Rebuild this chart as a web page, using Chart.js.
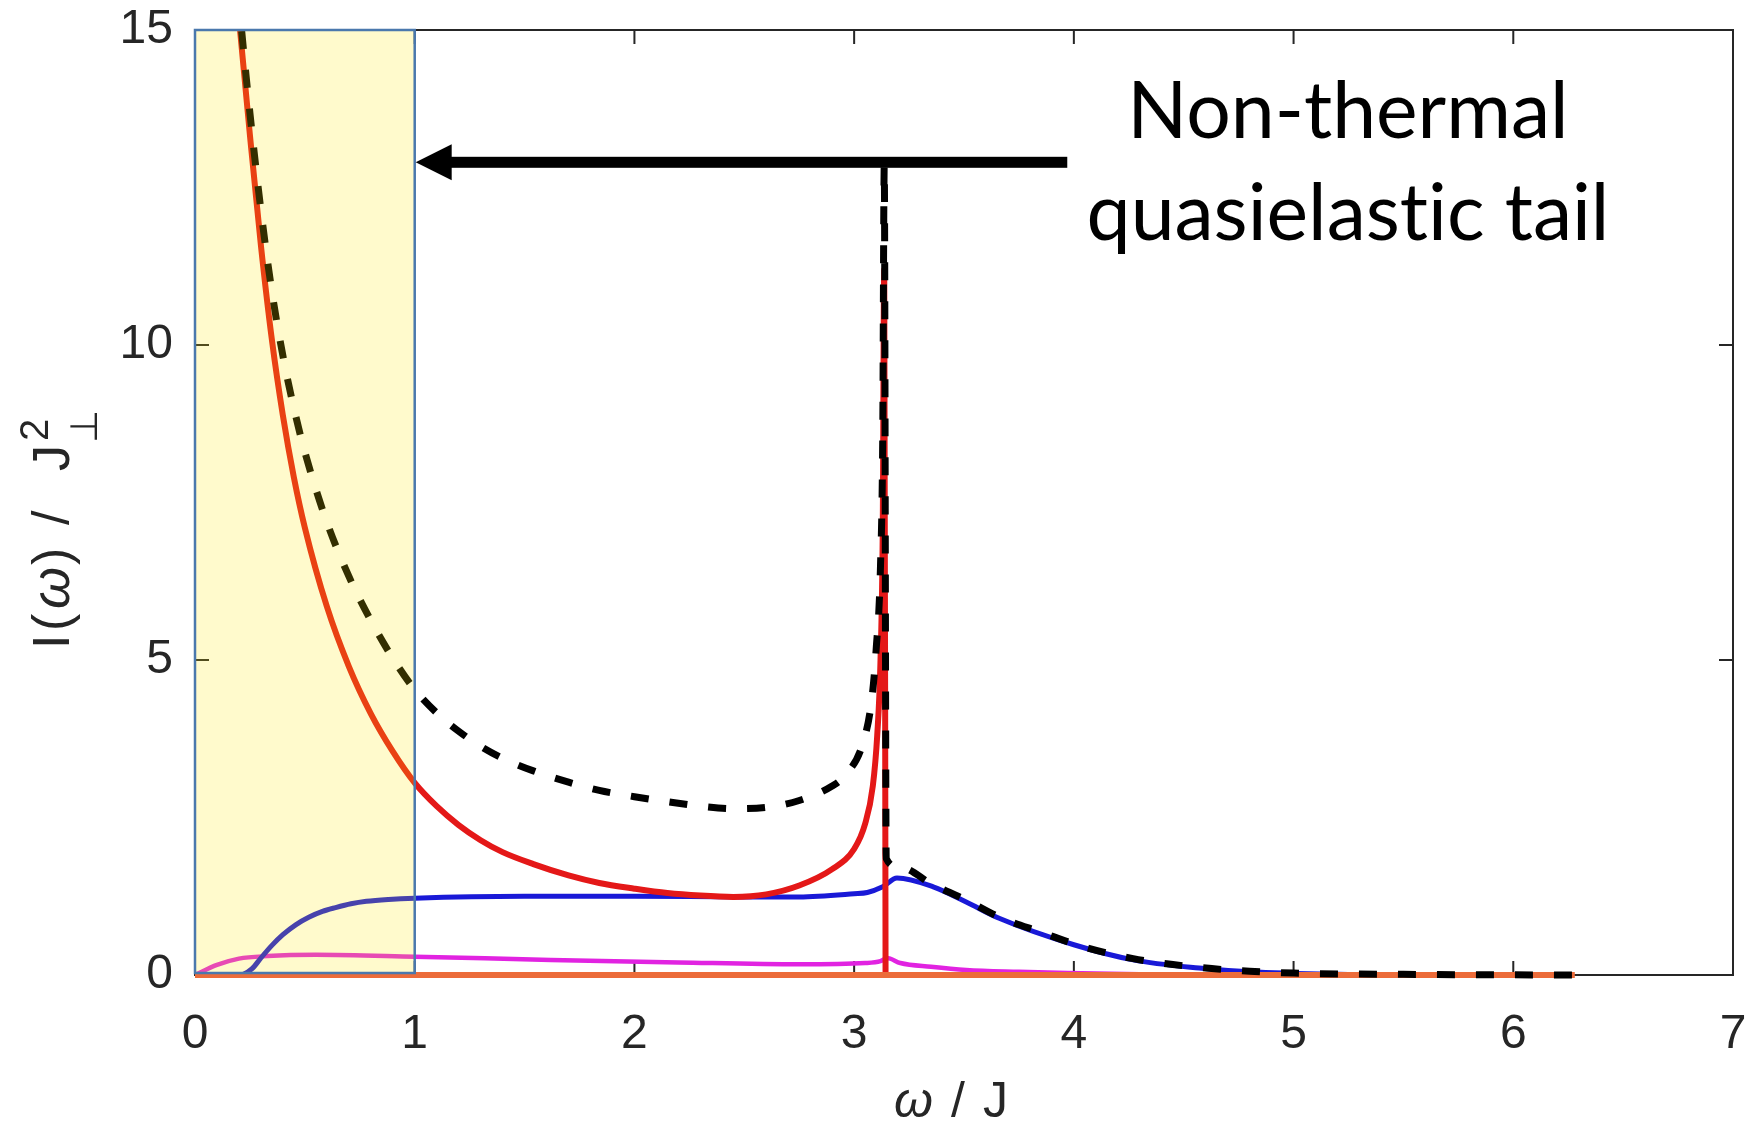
<!DOCTYPE html>
<html>
<head>
<meta charset="utf-8">
<script src="https://cdn.jsdelivr.net/npm/chart.js@4.4.1/dist/chart.umd.min.js"></script>
<style>
  html, body { margin: 0; padding: 0; background: #fff; }
  #wrap { width: 1749px; height: 1127px; }
</style>
</head>
<body>
<div id="wrap"><canvas id="chart" width="1749" height="1127"></canvas></div>
<script>
// values (omega / J, intensity / J_perp^2)
const xTicks = [0, 1, 2, 3, 4, 5, 6, 7];
const yTicks = [0, 5, 10, 15];

// total intensity (black dashed)
const totalW = [0.15, 0.205, 0.25, 0.3, 0.35, 0.4, 0.45, 0.5, 0.6, 0.7, 0.8, 0.9, 1.0, 1.1, 1.2, 1.3, 1.4, 1.54, 1.7, 1.84, 2.0, 2.15, 2.3, 2.45, 2.6, 2.75, 2.9, 2.95, 3.04, 3.08, 3.1, 3.12, 3.13, 3.137, 3.146, 3.2, 3.36, 3.51, 3.66, 3.85, 4.04, 4.27, 4.57, 4.8, 5.0, 5.5, 6.28];
const totalI = [17.45, 15.26, 13.68, 12.14, 10.85, 9.83, 9.0, 8.3, 7.19, 6.33, 5.63, 5.03, 4.53, 4.16, 3.87, 3.63, 3.44, 3.24, 3.06, 2.93, 2.83, 2.75, 2.68, 2.64, 2.66, 2.77, 3.0, 3.14, 3.68, 4.37, 5.16, 6.5, 8.5, 12.85, 1.85, 1.72, 1.43, 1.19, 0.92, 0.68, 0.45, 0.26, 0.12, 0.06, 0.03, 0.01, 0];

// red
const redW = [0.15, 0.205, 0.25, 0.3, 0.35, 0.4, 0.45, 0.5, 0.6, 0.7, 0.8, 0.9, 1.0, 1.1, 1.2, 1.3, 1.4, 1.54, 1.7, 1.84, 2.0, 2.15, 2.3, 2.45, 2.6, 2.75, 2.9, 3.0, 3.05, 3.085, 3.105, 3.12, 3.13, 3.137, 3.143];
const redI = [17.2, 15.0, 13.33, 11.58, 10.08, 8.88, 7.9, 7.1, 5.85, 4.9, 4.15, 3.55, 3.05, 2.68, 2.38, 2.14, 1.95, 1.76, 1.58, 1.46, 1.37, 1.3, 1.26, 1.24, 1.28, 1.42, 1.68, 2.0, 2.4, 3.0, 3.8, 5.0, 7.0, 11.2, 0];

// blue
const blueW = [0, 0.2, 0.22, 0.26, 0.3, 0.35, 0.4, 0.46, 0.52, 0.58, 0.64, 0.71, 0.78, 0.88, 1.0, 1.5, 2.0, 2.5, 2.75, 3.0, 3.06, 3.13, 3.195, 3.36, 3.51, 3.66, 4.0, 4.27, 4.57, 4.8, 5.2, 5.6];
const blueI = [0, 0, 0.01, 0.1, 0.27, 0.47, 0.64, 0.8, 0.92, 1.01, 1.07, 1.13, 1.17, 1.2, 1.22, 1.25, 1.25, 1.24, 1.24, 1.29, 1.31, 1.4, 1.54, 1.4, 1.16, 0.9, 0.48, 0.24, 0.11, 0.05, 0.01, 0];

// magenta
const magW = [0, 0.1, 0.2, 0.33, 0.55, 1.0, 1.62, 2.2, 2.75, 3.05, 3.12, 3.15, 3.21, 3.35, 3.51, 3.75, 3.97, 4.3, 4.8];
const magI = [0, 0.16, 0.26, 0.3, 0.32, 0.29, 0.24, 0.2, 0.17, 0.19, 0.22, 0.27, 0.19, 0.13, 0.08, 0.05, 0.03, 0.01, 0];

// orange
const orangeW = [0, 6.28];
const orangeI = [0, 0];

const pts = (w, v) => w.map((x, i) => ({ x: x, y: v[i] }));

const tickColor = '#262626';

// draws a list of [text, font, gapAfter] runs along the current baseline
function drawRuns(ctx, runs, x0) {
    let cx = x0;
    runs.forEach(r => {
        ctx.font = r[1];
        ctx.fillText(r[0], cx, 0);
        cx += ctx.measureText(r[0]).width + (r[2] || 0);
    });
    return cx;
}

const frame = {
    id: 'frame',
    beforeDatasetsDraw(chart) {
        const { ctx, chartArea: a, scales } = chart;
        ctx.save();
        ctx.strokeStyle = tickColor;
        ctx.lineWidth = 2;
        ctx.strokeRect(a.left, a.top, a.right - a.left, a.bottom - a.top);
        ctx.beginPath();
        xTicks.forEach(t => {
            const px = scales.x.getPixelForValue(t);
            ctx.moveTo(px, a.bottom); ctx.lineTo(px, a.bottom - 14);
            ctx.moveTo(px, a.top); ctx.lineTo(px, a.top + 14);
        });
        yTicks.forEach(t => {
            const py = scales.y.getPixelForValue(t);
            ctx.moveTo(a.left, py); ctx.lineTo(a.left + 14, py);
            ctx.moveTo(a.right, py); ctx.lineTo(a.right - 14, py);
        });
        ctx.stroke();
        ctx.restore();
    }
};

const overlay = {
    id: 'overlay',
    afterDatasetsDraw(chart) {
        const { ctx, scales: { x, y } } = chart;
        ctx.save();

        // shaded low-frequency region
        const x0 = x.getPixelForValue(0), x1 = x.getPixelForValue(1);
        const yTop = y.getPixelForValue(15), yBot = y.getPixelForValue(0) - 2;
        ctx.fillStyle = 'rgba(255,230,0,0.2)';
        ctx.fillRect(x0, yTop, x1 - x0, yBot - yTop);
        ctx.strokeStyle = '#4a78ad';
        ctx.lineWidth = 2.5;
        ctx.strokeRect(x0, yTop, x1 - x0, yBot - yTop);

        // arrow
        const tipX = x1 + 1, ay = y.getPixelForValue(12.9);
        const tailX = x.getPixelForValue(3.97);
        ctx.fillStyle = '#000';
        ctx.fillRect(tipX + 34, ay - 5.5, tailX - tipX - 34, 11);
        ctx.beginPath();
        ctx.moveTo(tipX, ay);
        ctx.lineTo(tipX + 36, ay - 18);
        ctx.lineTo(tipX + 36, ay + 18);
        ctx.closePath();
        ctx.fill();

        // annotation text (second line drawn in two parts to avoid the "ti" ligature)
        const cx = 1348;
        const partA = 'quasielast', partB = 'ic tail';
        let size = 80;
        ctx.font = size + 'px Lato';
        const w = ctx.measureText(partA).width + ctx.measureText(partB).width;
        size = Math.min(84, size * 523 / w);
        ctx.font = size + 'px Lato';
        ctx.textBaseline = 'alphabetic';
        ctx.textAlign = 'center';
        ctx.fillText('Non-thermal', cx, 138);
        ctx.textAlign = 'left';
        const wa = ctx.measureText(partA).width, wb = ctx.measureText(partB).width;
        const sx = cx - (wa + wb) / 2;
        ctx.fillText(partA, sx, 240);
        ctx.fillText(partB, sx + wa, 240);
        ctx.restore();
    },
    afterDraw(chart) {
        const { ctx } = chart;
        ctx.save();
        ctx.fillStyle = tickColor;
        ctx.textBaseline = 'alphabetic';
        ctx.textAlign = 'left';

        const reg = '50px "Liberation Sans"';
        const ita = 'italic 50px "Liberation Sans"';

        // x axis title: omega / J
        const xRuns = [['ω', ita, 18], ['/', reg, 18], ['J', reg, 0]];
        ctx.save();
        ctx.globalAlpha = 0;
        const wx = drawRuns(ctx, xRuns, 0);
        ctx.restore();
        ctx.save();
        ctx.translate(951 - wx / 2, 1117);
        drawRuns(ctx, xRuns, 0);
        ctx.restore();

        // y axis title: I(omega) / J_perp^2, rotated
        const yr = '52px "Liberation Sans"';
        const yi = 'italic 54px "Liberation Sans"';
        ctx.translate(69, 649);
        ctx.rotate(-Math.PI / 2);
        [['I', yr, 0], ['(', yr, 18], ['ω', yi, 40], [')', yr, 84], ['/', yr, 124], ['J', yr, 178]]
            .forEach(r => { ctx.font = r[1]; ctx.fillText(r[0], r[2], 0); });
        ctx.font = '40px "Liberation Sans"';
        ctx.fillText('2', 208, -21);
        ctx.font = '38px "DejaVu Sans"';
        ctx.fillText('⊥', 206, 28);
        ctx.restore();
    }
};

const lineDs = (data, color, width, dash) => ({
    data: data,
    borderColor: color,
    borderWidth: width,
    borderDash: dash || [],
    pointRadius: 0,
    fill: false,
    cubicInterpolationMode: 'monotone',
    clip: { left: 0, top: 0, right: 0, bottom: 6 }
});

const hiddenGrid = { display: true, drawOnChartArea: false, drawTicks: true, color: 'rgba(0,0,0,0)' };

new Chart(document.getElementById('chart'), {
    type: 'line',
    data: {
        datasets: [
            lineDs(pts(totalW, totalI), '#000000', 7, [18, 21]),
            lineDs(pts(orangeW, orangeI), 'rgb(236,108,58)', 6),
            lineDs(pts(redW, redI), 'rgb(228,24,24)', 6),
            lineDs(pts(blueW, blueI), 'rgb(25,25,215)', 5),
            lineDs(pts(magW, magI), 'rgb(225,35,225)', 4.5)
        ]
    },
    options: {
        responsive: false,
        animation: false,
        devicePixelRatio: 1,
        layout: { padding: { left: 0, top: 30, right: 16, bottom: 0 } },
        plugins: { legend: { display: false }, tooltip: { enabled: false } },
        scales: {
            x: {
                type: 'linear',
                min: 0, max: 7,
                afterFit: s => { s.height = 152; },
                grid: Object.assign({ tickLength: 31 }, hiddenGrid),
                border: { display: false },
                ticks: {
                    stepSize: 1,
                    padding: 0,
                    color: tickColor,
                    font: { family: '"Liberation Sans"', size: 48 }
                }
            },
            y: {
                min: 0, max: 15,
                afterFit: s => { s.width = 195; },
                grid: Object.assign({ tickLength: 22 }, hiddenGrid),
                border: { display: false },
                ticks: {
                    stepSize: 5,
                    padding: 0,
                    color: tickColor,
                    font: { family: '"Liberation Sans"', size: 48 }
                }
            }
        }
    },
    plugins: [frame, overlay]
});
</script>
</body>
</html>
